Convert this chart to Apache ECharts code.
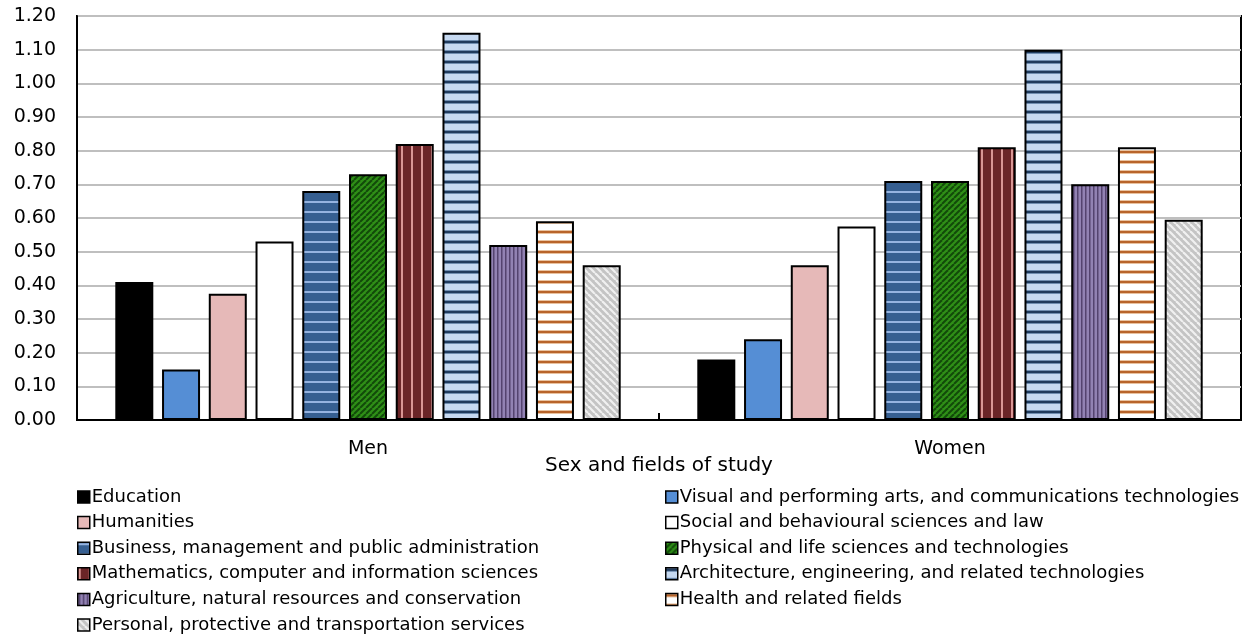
<!DOCTYPE html>
<html><head><meta charset="utf-8">
<script src="https://cdn.jsdelivr.net/npm/echarts@6/dist/echarts.min.js"></script>
<style>html,body{margin:0;padding:0;background:#fff}#c{width:1252px;height:637px}</style>
</head><body><div id="c"></div>
<script>
const categories = ['Men', 'Women'];
const fields = [
  'Education',
  'Visual and performing arts, and communications technologies',
  'Humanities',
  'Social and behavioural sciences and law',
  'Business, management and public administration',
  'Physical and life sciences and technologies',
  'Mathematics, computer and information sciences',
  'Architecture, engineering, and related technologies',
  'Agriculture, natural resources and conservation',
  'Health and related fields',
  'Personal, protective and transportation services'
];
const education = [0.41, 0.18];
const visualArts = [0.15, 0.24];
const humanities = [0.375, 0.46];
const socialSciences = [0.53, 0.575];
const business = [0.68, 0.71];
const physicalSciences = [0.73, 0.71];
const mathematics = [0.82, 0.81];
const architecture = [1.15, 1.10];
const agriculture = [0.52, 0.70];
const health = [0.59, 0.81];
const personalServices = [0.46, 0.595];
const seriesValues = [education, visualArts, humanities, socialSciences, business, physicalSciences, mathematics, architecture, agriculture, health, personalServices];
const yTicks = [0, 0.1, 0.2, 0.3, 0.4, 0.5, 0.6, 0.7, 0.8, 0.9, 1.0, 1.1, 1.2];

function pat(w, h, draw) {
  const c = document.createElement('canvas');
  c.width = w; c.height = h;
  const g = c.getContext('2d');
  draw(g, w, h);
  return { image: c, repeat: 'repeat' };
}
function hlines(bg, fg, period, lw, halo) {
  return pat(8, period, (g, w, h) => {
    g.fillStyle = bg; g.fillRect(0, 0, w, h);
    if (halo) { g.fillStyle = halo; g.fillRect(0, 0, w, lw + 2); }
    g.fillStyle = fg; g.fillRect(0, 1, w, lw);
  });
}
function vlines(bg, fg, period, lw) {
  return pat(period, 8, (g, w, h) => {
    g.fillStyle = bg; g.fillRect(0, 0, w, h);
    g.fillStyle = fg; g.fillRect(1, 0, lw, h);
  });
}
function diag(bg, fg, period, lw, dir) {
  return pat(period, period, (g, w, h) => {
    g.fillStyle = bg; g.fillRect(0, 0, w, h);
    g.strokeStyle = fg; g.lineWidth = lw;
    for (let k = -1; k <= 1; k++) {
      g.beginPath();
      if (dir > 0) { g.moveTo(k * w, h); g.lineTo(k * w + w, 0); }
      else { g.moveTo(k * w, 0); g.lineTo(k * w + w, h); }
      g.stroke();
    }
  });
}
const fills = [
  '#000000',
  '#558ed5',
  '#e6b9b8',
  '#ffffff',
  hlines('#365f91', '#95b3e0', 10, 2),
  diag('#2f8f17', '#124a0a', 6, 2, 1),
  vlines('#6b2527', '#d99694', 10, 2),
  hlines('#c6d9f1', '#1f3a5c', 10, 2, '#6f8db0'),
  vlines('#9282b3', '#54436f', 4, 1.5),
  hlines('#ffffff', '#b8642a', 10, 2, '#e8c2a0'),
  diag('#c4c4c4', '#f0f0f0', 7, 2.2, -1)
];

const series = fields.map((name, i) => ({
  name: name,
  type: 'bar',
  barWidth: 38,
  barGap: '23%',
  data: seriesValues[i],
  itemStyle: { color: fills[i], borderColor: '#000', borderWidth: 2 }
}));

const leftNames = fields.filter((_, i) => i % 2 === 0);
const rightNames = fields.filter((_, i) => i % 2 === 1);
const legendCommon = {
  orient: 'vertical',
  top: 488,
  bottom: 0,
  padding: 0,
  itemWidth: 12,
  itemHeight: 12,
  itemGap: 7.6,
  icon: 'rect',
  textStyle: { fontFamily: 'DejaVu Sans', fontSize: 18, lineHeight: 18, color: '#000', padding: [0, 0, 0, -3] },
  itemStyle: { borderColor: '#000', borderWidth: 1.5 }
};

const chart = echarts.init(document.getElementById('c'), null, { renderer: 'canvas' });
chart.setOption({
  animation: false,
  backgroundColor: '#fff',
  textStyle: { fontFamily: 'DejaVu Sans' },
  grid: { left: 77, right: 11, top: 16, bottom: 217, show: true, borderColor: '#000', borderWidth: 2, backgroundColor: 'transparent' },
  legend: [
    Object.assign({}, legendCommon, { left: 77, data: leftNames }),
    Object.assign({}, legendCommon, { left: 665, data: rightNames })
  ],
  xAxis: {
    type: 'category',
    data: categories,
    name: 'Sex and fields of study',
    nameLocation: 'middle',
    nameGap: 36,
    nameMoveOverlap: false,
    nameTextStyle: { fontFamily: 'DejaVu Sans', fontSize: 20, color: '#000' },
    axisLine: { lineStyle: { color: '#000', width: 2 } },
    axisTick: { show: true, inside: true, length: 7, lineStyle: { color: '#000', width: 2 } },
    axisLabel: { fontFamily: 'DejaVu Sans', fontSize: 19, color: '#000', margin: 20 }
  },
  yAxis: {
    type: 'value',
    min: 0, max: 1.2, interval: 0.1,
    axisLine: { show: true, lineStyle: { color: '#000', width: 2 } },
    axisTick: { show: false },
    splitLine: { lineStyle: { color: '#bfbfbf', width: 2 } },
    axisLabel: {
      fontFamily: 'DejaVu Sans', fontSize: 19, color: '#000', margin: 21,
      formatter: v => {
        const t = yTicks.find(x => Math.abs(x - v) < 1e-9);
        return (t !== undefined ? t : v).toFixed(2);
      }
    }
  },
  series: series
});
</script></body></html>
